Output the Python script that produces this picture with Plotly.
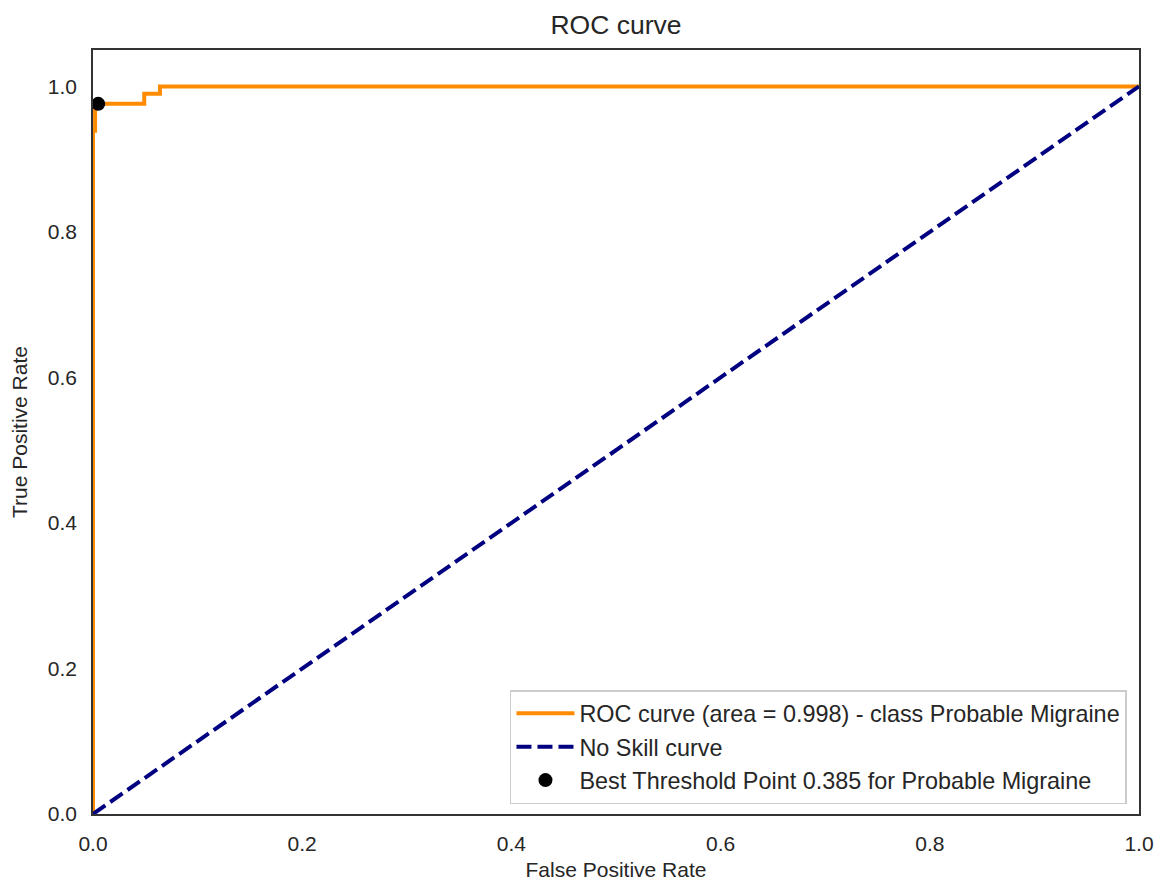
import plotly.graph_objects as go

fpr = [0.0, 0.0, 0.002, 0.002, 0.049, 0.049, 0.064, 0.064, 1.0]
tpr = [0.0, 0.939, 0.939, 0.976, 0.976, 0.990, 0.990, 1.0, 1.0]
skill_x = [0.0, 1.0]
skill_y = [0.0, 1.0]
best_x = [0.005]
best_y = [0.976]
tick_vals = [0.0, 0.2, 0.4, 0.6, 0.8, 1.0]
tick_text = ["0.0", "0.2", "0.4", "0.6", "0.8", "1.0"]

font_family = "Liberation Sans, Arial, sans-serif"

fig = go.Figure()
fig.add_trace(go.Scatter(x=fpr, y=tpr, mode="lines",
                         line=dict(color="darkorange", width=4),
                         name="ROC curve (area = 0.998) - class Probable Migraine"))
fig.add_trace(go.Scatter(x=skill_x, y=skill_y, mode="lines",
                         line=dict(color="navy", width=4, dash="15px,6px"),
                         name="No Skill curve"))
fig.add_trace(go.Scatter(x=best_x, y=best_y, mode="markers",
                         marker=dict(color="black", size=14),
                         name="Best Threshold Point 0.385 for Probable Migraine"))

axis_common = dict(showline=True, mirror=True, linecolor="#333333", linewidth=1.6,
                   showgrid=False, zeroline=False, ticks="outside", ticklen=10,
                   tickcolor="rgba(0,0,0,0)", tickvals=tick_vals, automargin=False,
                   ticktext=tick_text, tickfont=dict(size=21, color="#262626"))

W, H = 1160, 874
L, T = 85, 42
PW, PH = 1046, 764

fig.update_layout(
    width=W, height=H,
    margin=dict(l=L, r=W - L - PW, t=T, b=H - T - PH),
    paper_bgcolor="white", plot_bgcolor="white",
    font=dict(family=font_family, color="#262626"),
    title=dict(text="ROC curve", x=(L + PW / 2) / W, xanchor="center",
               y=1 - 17 / H, yanchor="middle",
               font=dict(size=26.5, color="#262626")),
    xaxis=dict(range=[0, 1.0], title=dict(text="False Positive Rate", font=dict(size=21), standoff=8),
               **axis_common),
    yaxis=dict(range=[0, 1.05], title=dict(text="True Positive Rate", font=dict(size=21), standoff=14),
               **axis_common),
    legend=dict(x=0.9885, xanchor="right", y=0.013, yanchor="bottom",
                bgcolor="rgba(255,255,255,0.8)", bordercolor="#cccccc", borderwidth=1.5,
                font=dict(size=23.4, color="#262626"), tracegroupgap=0, itemwidth=58),
    showlegend=True,
)

fig.write_html("out.html")
